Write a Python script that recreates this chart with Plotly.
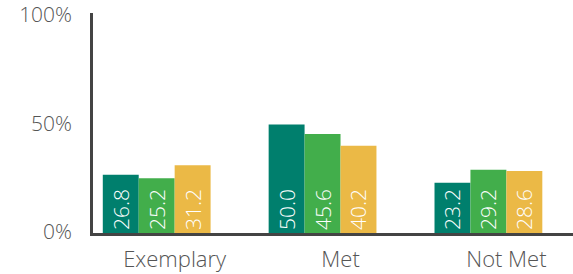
import plotly.graph_objects as go

categories = ["Exemplary", "Met", "Not Met"]
series_a = [26.8, 50.0, 23.2]
series_b = [25.2, 45.6, 29.2]
series_c = [31.2, 40.2, 28.6]
series_names = ["Series 1", "Series 2", "Series 3"]
colors = ["#007f6d", "#42ae4b", "#ebb946"]
y_tickvals = [0, 50, 100]
y_ticktext = ["0%", "50%", "100%"]

FONT = "Open Sans"

fig = go.Figure()
for name, vals, col in zip(series_names, [series_a, series_b, series_c], colors):
    fig.add_trace(go.Bar(
        x=categories, y=vals, name=name, marker=dict(color=col, line=dict(width=0)),
        text=[f"{v:.1f}" for v in vals], textposition="inside", insidetextanchor="start",
        textangle=-90, textfont=dict(color="white", size=21, family=FONT, weight=300),
        constraintext="none",
    ))

fig.update_layout(
    width=573, height=274,
    margin=dict(l=93, r=0, t=10, b=41),
    barmode="group", bargap=0.35, bargroupgap=0,
    plot_bgcolor="white", paper_bgcolor="white",
    showlegend=False,
    font=dict(family=FONT, color="#555555", size=20, weight=300),
    uniformtext=dict(mode=False),
)
fig.update_xaxes(
    range=[-0.384, 2.51], showline=True, linecolor="#444444", linewidth=2.5,
    ticks="", showgrid=False, tickfont=dict(size=22, color="#555555", weight=300),
    ticklabelstandoff=5, ticklabelshift=18, ticklabeloverflow="allow",
)
fig.update_yaxes(
    range=[0, 101.4], tickvals=y_tickvals, ticktext=y_ticktext,
    showline=True, linecolor="#444444", linewidth=2.5, showgrid=False, zeroline=False,
    ticks="", tickfont=dict(size=21, color="#555555", weight=300), ticklabelstandoff=14,
    ticklabeloverflow="allow", ticklabelshift=-1,
)
fig.write_html("out.html", config={"displayModeBar": False},
               post_script="document.body.style.margin='0';document.body.style.padding='0';")
